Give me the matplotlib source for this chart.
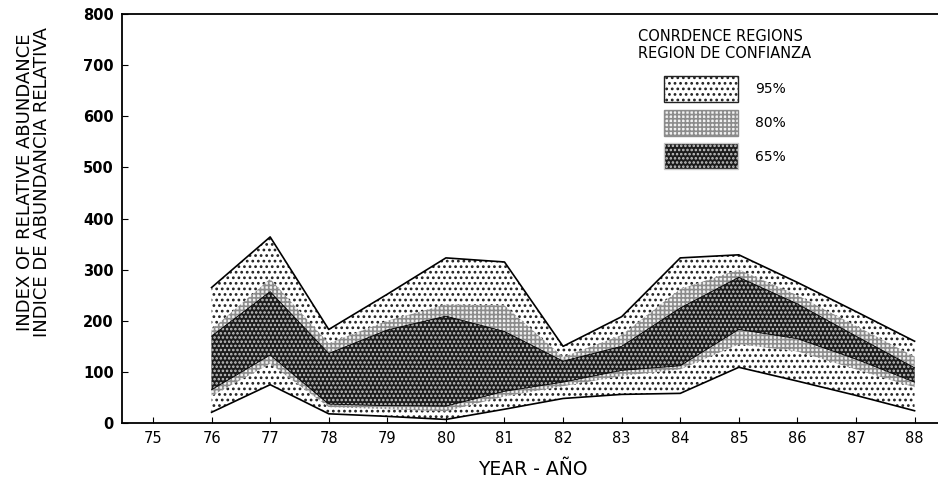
import matplotlib
matplotlib.use("Agg")
import matplotlib.pyplot as plt
from matplotlib.patches import Patch

plt.rcParams['font.family'] = ['DejaVu Sans']
plt.rcParams['hatch.linewidth'] = 1.2

years = [76, 77, 78, 79, 80, 81, 82, 83, 84, 85, 86, 87, 88]
upper95 = [265, 364, 183, 252, 323, 315, 150, 208, 323, 329, 275, 218, 160]
upper80 = [183, 282, 156, 200, 232, 230, 129, 172, 262, 300, 250, 190, 130]
upper65 = [170, 257, 136, 182, 209, 179, 121, 150, 225, 285, 233, 170, 108]
lower65 = [65, 133, 37, 34, 33, 62, 80, 103, 112, 183, 165, 125, 80]
lower80 = [53, 116, 31, 27, 23, 52, 72, 92, 105, 154, 140, 105, 70]
lower95 = [21, 75, 18, 13, 7, 27, 48, 56, 58, 109, 82, 54, 24]

xticks = list(range(75, 89))
yticks = list(range(0, 801, 100))
legend_labels = ['95%', '80%', '65%']

fig = plt.figure(figsize=(9.38, 4.84), dpi=100)
ax = fig.add_axes([0.130, 0.126, 0.870, 0.845])

styles = [
    dict(facecolor='white', edgecolor='#222222', hatch='...'),
    dict(facecolor='#f2f2f2', edgecolor='#8c8c8c', hatch='++++'),
    dict(facecolor='#1c1c1c', edgecolor='#c8c8c8', hatch='....'),
]
bands = [(lower95, upper95), (lower80, upper80), (lower65, upper65)]
for (lo, hi), st in zip(bands, styles):
    ax.fill_between(years, lo, hi, linewidth=0, **st)

ax.plot(years, upper95, color='black', lw=1.2)
ax.plot(years, lower95, color='black', lw=1.2)
ax.plot(years, upper65, color='black', lw=0.6)
ax.plot(years, lower65, color='black', lw=0.6)

ax.set_xlim(74.47, 88.40)
ax.set_ylim(0, 800)
ax.set_xticks(xticks)
ax.set_xticklabels([str(t) for t in xticks], fontsize=10.5)
ax.set_yticks(yticks)
ax.set_yticklabels([str(t) for t in yticks], fontsize=10.5, fontweight='bold')
ax.tick_params(axis='both', direction='in', length=4, width=0.8, pad=6)
ax.spines['right'].set_visible(False)
for s in ['left', 'bottom', 'top']:
    ax.spines[s].set_linewidth(1.3)

handles = []
for l, st in zip(legend_labels, styles):
    p = Patch(label=l, linewidth=1, **st)
    p.set_edgecolor(st['edgecolor'])
    handles.append(p)
leg = ax.legend(handles=handles, title='CONRDENCE REGIONS\nREGION DE CONFIANZA',
                loc='upper center', bbox_to_anchor=(0.739, 0.995), frameon=False,
                fontsize=10, title_fontsize=10.5, handlelength=5.3, handleheight=2.5,
                labelspacing=0.55, handletextpad=1.2)
leg._legend_box.sep = 11
for p in leg.get_patches():
    p.set_linewidth(1.0)

fig.text(0.036, 0.624, 'INDEX OF RELATIVE ABUNDANCE\nINDICE DE ABUNDANCIA RELATIVA',
         rotation=90, ha='center', va='center', fontsize=13, linespacing=0.9)
fig.text(0.568, 0.029, 'YEAR - AÑO', ha='center', va='center', fontsize=13.5)

fig.savefig('out.png', dpi=100)
